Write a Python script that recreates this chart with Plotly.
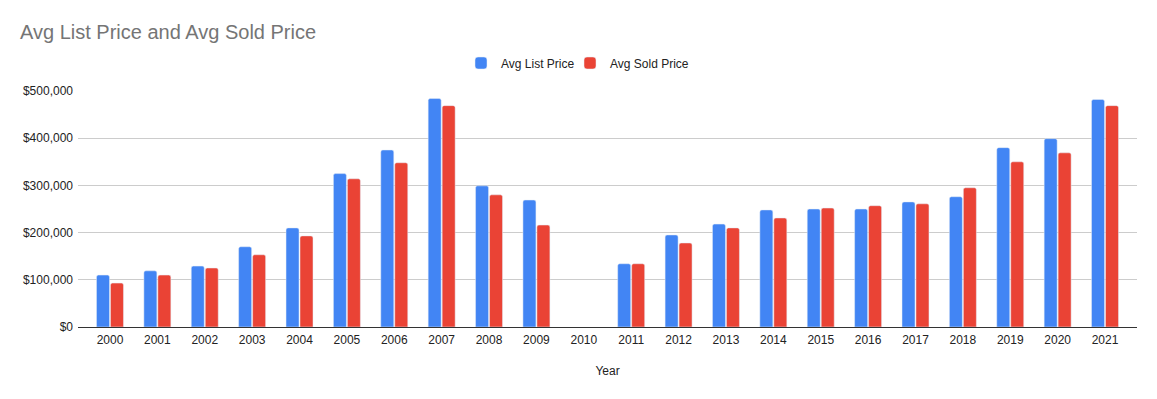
import plotly.graph_objects as go

years = [str(y) for y in range(2000, 2022)]
avg_list = [110000, 119000, 129000, 170000, 210000, 325000, 375000, 484000, 299000, 269000,
            None, 134000, 195000, 218000, 248000, 250000, 250000, 265000, 276000, 380000, 399000, 482000]
avg_sold = [93000, 110000, 125000, 153000, 193000, 314000, 348000, 469000, 280000, 216000,
            None, 134000, 178000, 210000, 231000, 252000, 257000, 261000, 295000, 350000, 369000, 469000]

# page has an 8px body margin; figure sized/positioned to compensate
W, H = 1149, 391
ML, MR, MT, MB = 70, 20, 83, 72
PH = H - MT - MB
PW = W - ML - MR

fig = go.Figure()
fig.add_trace(go.Bar(x=years, y=avg_list, name="Avg List Price", marker_color="#4285F4",
                     legend="legend"))
fig.add_trace(go.Bar(x=years, y=avg_sold, name="Avg Sold Price", marker_color="#EA4335",
                     legend="legend2"))

leg_common = dict(orientation="h", xanchor="left", y=1+(MT-55)/PH, yanchor="middle",
                  font=dict(size=12, color="#222222"), itemwidth=30, bgcolor="rgba(0,0,0,0)")

fig.update_layout(
    width=W, height=H,
    paper_bgcolor="white", plot_bgcolor="white",
    margin=dict(l=ML, r=MR, t=MT, b=MB, autoexpand=False),
    font=dict(family="Liberation Sans, Arial, sans-serif", size=12, color="#222222"),
    title=dict(text="Avg List Price and Avg Sold Price", x=12/W, xanchor="left",
               y=1-24/H, yanchor="middle",
               font=dict(size=20, color="#757575")),
    legend=dict(x=(453-ML)/PW, **leg_common),
    legend2=dict(x=(562-ML)/PW, **leg_common),
    bargap=0.41, bargroupgap=0.07, barcornerradius=2,
    showlegend=True,
)
fig.update_xaxes(title=dict(text="Year", standoff=20, font=dict(size=12, color="#222222")),
                 range=[-0.675, 21.675],
                 showgrid=False, showline=True, linecolor="#333333", linewidth=1,
                 ticks="", tickfont=dict(size=12, color="#222222"), ticklabelstandoff=2)
fig.update_yaxes(range=[0, 500000], dtick=100000, tickprefix="$", tickformat=",",
                 showgrid=True, gridcolor="#CCCCCC", zeroline=False,
                 ticks="", tickfont=dict(size=12, color="#222222"), ticklabelstandoff=4)

fig.write_html("out.html")
